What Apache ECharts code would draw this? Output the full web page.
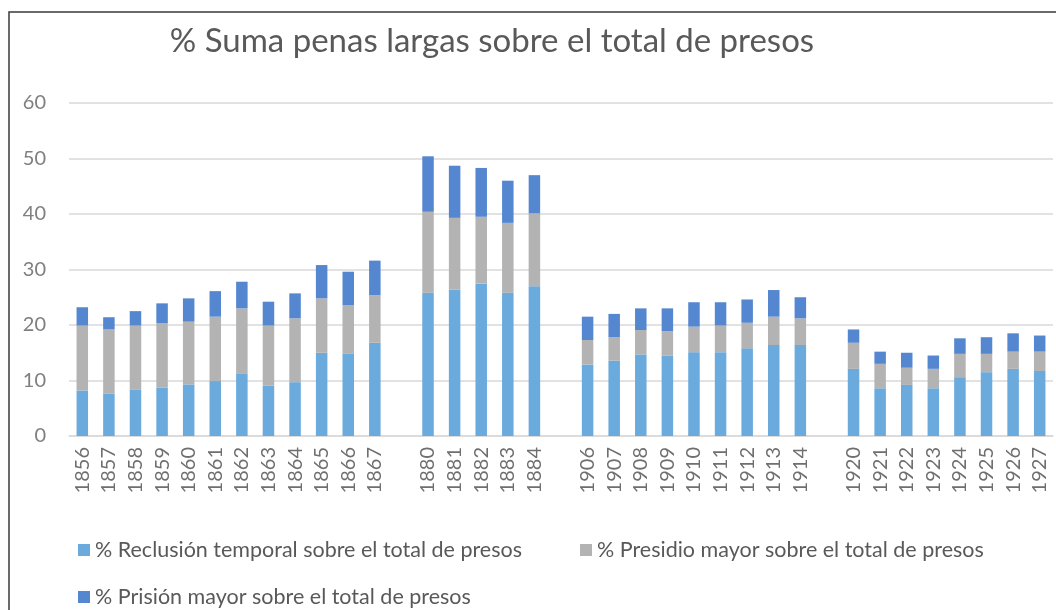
<!DOCTYPE html>
<html>
<head>
<meta charset="utf-8">
<script src="https://cdn.jsdelivr.net/npm/echarts@6/dist/echarts.min.js"></script>
<style>
  html, body { margin: 0; padding: 0; background: #fff; }
  #chart { width: 1056px; height: 610px; }
</style>
</head>
<body>
<div id="chart"></div>
<script>
// años ('' = hueco entre periodos)
const years = ['1856', '1857', '1858', '1859', '1860', '1861', '1862', '1863', '1864', '1865', '1866', '1867', '',
  '1880', '1881', '1882', '1883', '1884', '',
  '1906', '1907', '1908', '1909', '1910', '1911', '1912', '1913', '1914', '',
  '1920', '1921', '1922', '1923', '1924', '1925', '1926', '1927']

const reclusion = [8.2, 7.6, 8.4, 8.7, 9.3, 9.9, 11.3, 9.1, 9.7, 15.0, 14.8, 16.8, '-',
  25.8, 26.4, 27.5, 25.8, 27.0, '-',
  12.9, 13.6, 14.7, 14.5, 15.1, 15.1, 15.8, 16.4, 16.4, '-',
  12.1, 8.6, 9.2, 8.6, 10.6, 11.5, 12.1, 11.7]

const presidio = [11.7, 11.6, 11.5, 11.6, 11.3, 11.6, 11.7, 10.8, 11.5, 9.8, 8.8, 8.6, '-',
  14.6, 12.9, 12.0, 12.6, 13.1, '-',
  4.4, 4.2, 4.4, 4.4, 4.6, 4.8, 4.6, 5.1, 4.8, '-',
  4.7, 4.4, 3.1, 3.5, 4.2, 3.3, 3.1, 3.5]

const prision = [3.3, 2.2, 2.6, 3.6, 4.2, 4.6, 4.8, 4.3, 4.5, 6.0, 6.0, 6.2, '-',
  10.0, 9.4, 8.8, 7.6, 6.9, '-',
  4.2, 4.2, 3.9, 4.1, 4.4, 4.2, 4.2, 4.8, 3.8, '-',
  2.4, 2.2, 2.7, 2.4, 2.8, 3.0, 3.3, 2.9]

const names = [
  '% Reclusión temporal sobre el total de presos',
  '% Presidio mayor sobre el total de presos',
  '% Prisión mayor sobre el total de presos'
]

const font = 'Lato, "Open Sans", sans-serif'

const chart = echarts.init(document.getElementById('chart'))

function legendFor(name, left, top) {
  return {
    data: [name],
    left: left,
    top: top,
    itemWidth: 12,
    itemHeight: 12,
    itemGap: 0,
    icon: 'rect',
    textStyle: { fontFamily: font, fontSize: 21.5, color: '#595959', padding: [0, 0, 0, 0] },
    selectedMode: false
  }
}

chart.setOption({
  color: ['#6aaadc', '#b3b3b3', '#5587d0'],
  animation: false,
  title: {
    text: '% Suma penas largas sobre el total de presos',
    left: 487,
    textAlign: 'center',
    top: 20,
    textStyle: { fontFamily: font, fontSize: 33, fontWeight: 'normal', color: '#595959' }
  },
  legend: [
    legendFor(names[0], 73, 534),
    legendFor(names[1], 575, 534),
    legendFor(names[2], 73, 581)
  ],
  graphic: [
    { type: 'polyline', shape: { points: [[9, 1000], [9, 12], [1056, 12]] },
      style: { stroke: '#3a3a3a', lineWidth: 1.5, fill: null } }
  ],
  grid: { left: 69, right: 3, top: 103, bottom: 174 },
  xAxis: {
    type: 'category',
    data: years,
    axisLine: { lineStyle: { color: '#d9d9d9', width: 1.5 } },
    axisTick: { show: false },
    axisLabel: {
      interval: 0, rotate: 90, margin: 11,
      fontFamily: font, fontSize: 20, color: '#6f6f6f'
    }
  },
  yAxis: {
    type: 'value',
    min: 0, max: 60, interval: 10,
    axisLine: { show: false },
    axisTick: { show: false },
    splitLine: { lineStyle: { color: '#d9d9d9', width: 1.5 } },
    axisLabel: { margin: 23, fontFamily: font, fontSize: 20, color: '#7f7f7f' }
  },
  series: [
    { name: names[0], type: 'bar', stack: 'total', barWidth: 11.5, data: reclusion },
    { name: names[1], type: 'bar', stack: 'total', barWidth: 11.5, data: presidio },
    { name: names[2], type: 'bar', stack: 'total', barWidth: 11.5, data: prision }
  ]
})
</script>
</body>
</html>
